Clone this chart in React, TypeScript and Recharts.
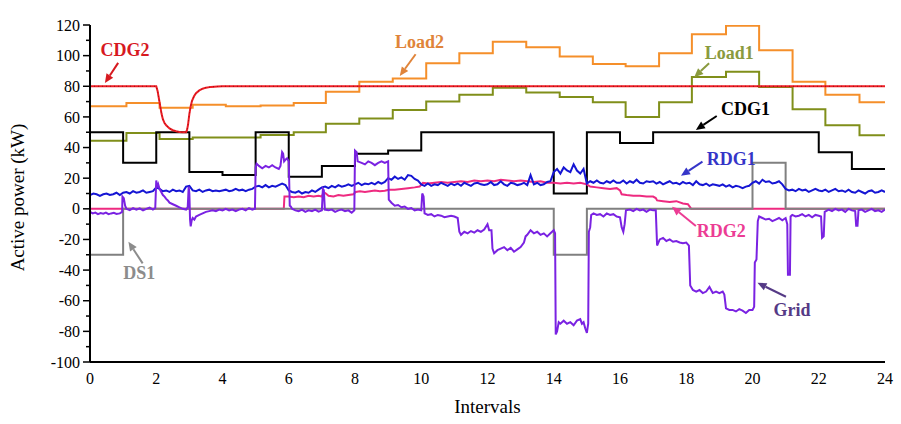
import React from 'react';
import { LineChart, Line, XAxis, YAxis, ReferenceLine, ReferenceDot } from 'recharts';

// ---- data ----
const hourStarts = [0,1,2,3,4,5,6,7,8,9,10,11,12,13,14,15,16,17,18,19,20,21,22,23];
const cdg1Values = [50,30,50,24,22,50,21,28,36,38,50,50,50,50,10,50,43,50,50,50,50,50,37,26];
const ds1Values = [-30,0,0,0,0,0,0,0,0,0,0,0,0,0,-30,0,0,0,0,0,30,0,0,0];

const loadStepX = [0,1.1,2.1,3.1,4.1,5.15,6.15,7.12,8.13,9.14,10.15,11.15,12.16,13.17,14.18,15.18,16.17,17.18,18.17,19.2,20.2,21.21,22.2,23.23];
const load2Values = [67,69,66,68,67,67.5,69,76.5,83,85,95,101.5,109,105.5,99.5,94.5,93,101.5,114,119.5,103.5,83,74.5,69.5];
const load1Values = [44.5,49.5,45.5,46.5,46.5,48.2,50,55.5,59,64.5,70,74.5,79,76,73,69.5,60,69.5,86,89.5,79.5,65,54.5,48];

const cdg2Points: [number, number][] = [
  [0,80],[2.0,80],[2.04,77],[2.08,72],[2.12,67],[2.16,62],[2.2,58.5],[2.25,56],[2.3,54.5],[2.4,52.5],
  [2.5,51.3],[2.6,50.6],[2.7,50.2],[2.8,50],[2.9,50],[2.93,51.5],[2.96,55],[3.0,62],[3.04,67],[3.08,70.5],
  [3.14,73.5],[3.2,75.5],[3.3,77.3],[3.4,78.4],[3.5,79.1],[3.65,79.6],[3.85,79.9],[4.0,80],[24,80],
];

const rdg2Points: [number, number][] = [
  [0,0],[5.85,0],[5.87,8],[6.0,8],[6.15,7.5],[6.3,8],[6.45,7.5],[6.6,8.5],[6.75,8],[6.9,8.5],[7.0,8],
  [7.05,11],[7.12,10],[7.2,8.5],[7.35,8],[7.5,9],[7.65,8.5],[7.8,9],[7.95,9.5],[8.02,11],[8.15,11.5],
  [8.3,11],[8.45,11.5],[8.6,12],[8.75,11.5],[8.9,11.8],[9.02,12.5],[9.2,12.5],[9.4,13],[9.6,13.5],
  [9.8,14],[9.95,14.5],[10.05,17],[10.2,16.5],[10.4,17],[10.6,17.5],[10.8,17],[11.0,17.5],[11.2,18],
  [11.4,17.5],[11.6,18.5],[11.8,18],[12.0,18.5],[12.2,18],[12.4,19],[12.6,18.5],[12.8,18],[13.0,18.5],
  [13.2,18],[13.4,17.5],[13.6,18],[13.8,17],[14.0,17],[14.2,16.5],[14.4,17],[14.6,16.5],[14.8,17],
  [15.0,16],[15.1,14.5],[15.3,14],[15.5,13.5],[15.7,13],[15.9,13.5],[16.0,12],[16.05,9.5],[16.2,9],
  [16.4,8.5],[16.6,8.5],[16.8,8],[17.0,8],[17.08,7],[17.12,5.5],[17.3,5],[17.5,4.5],[17.7,5],[17.9,3.5],
  [18.05,3],[18.12,1],[18.15,0],[24,0],
];

const rdg1Hourly: number[][] = [
  [9,10,9.5,8.5,9.5,10,9,9.5,10.5,9],
  [10.5,11,10,11.5,10.5,11,12,10.5,11,11.5],
  [14,13,11.5,12,11,12.5,11.5,12,11,14.5],
  [15,12,11.5,12.5,11,12,12.5,11.5,12,11.5],
  [12,12.5,11.5,12,13,12,12.5,11.5,12.5,13],
  [14.5,15,14,15.5,14,15,14.5,15.5,16.5,15.5],
  [12,11,10.5,11.5,10,11,10.5,12,11,12.5],
  [14,14.5,13.5,15,14,15.5,14.5,15,16,15],
  [16,17,15.5,16.5,16,17,16,17.5,16.5,17.5],
  [20,19,21,19.5,20.5,19,22,21.5,19.5,18.5],
  [16,15,16.5,15,16,15.5,17,16,15,16.5],
  [15.5,16.5,15,17,16,15,16.5,17,16,15.5],
  [16,17.5,15.5,16,18,16,15,17,16.5,15.5],
  [16,17,15.5,22,16,17,15.5,16,17.5,18],
  [24,26,23,27,25,24,29,25,23,26],
  [16.5,18,17,18.5,17,16.5,18,17,18.5,17],
  [17,18.5,16.5,18,17,19,17,16.5,18,17.5],
  [18,16.5,17.5,16,17,18,16.5,17,16,17.5],
  [16.5,17,15.5,18,16,15.5,16.5,15,16,15.5],
  [15,16,14.5,15.5,14,15,14.5,13.5,14.5,15],
  [17,18,16.5,19,17.5,18,16.5,17,18,16],
  [13,12,12.5,11.5,13,12,12.5,11,12,13],
  [12,11.5,12.5,11,12,13,11.5,12,11,12.5],
  [11,10.5,12,11,10,11.5,12,10.5,11,12],
];
const rdg1End = 11;

const gridPoints: [number, number][] = [
  [0,-2],[0.08,-3],[0.16,-2.5],[0.24,-3.5],[0.32,-2.8],[0.4,-3.2],[0.48,-2.5],[0.56,-3.5],[0.64,-3],[0.72,-2.6],
  [0.8,-3.4],[0.9,-3],[0.97,-2],[0.98,8],[1.02,7],[1.06,2],[1.1,0],[1.2,-0.8],[1.3,0.5],[1.4,-0.5],[1.5,0.3],
  [1.6,-1],[1.7,0],[1.8,0.8],[1.9,-0.5],[1.97,0.5],[2.0,18.5],[2.03,14],[2.06,16],[2.1,13],[2.15,11],[2.2,9],
  [2.25,8],[2.3,6.5],[2.35,5.5],[2.4,4],[2.5,3],[2.6,2],[2.7,1],[2.8,0],[2.9,-0.5],[2.95,1],[2.98,14.5],
  [3.0,10],[3.02,-7],[3.04,-11.5],[3.07,-7.5],[3.1,-6],[3.15,-7],[3.2,-5],[3.3,-4],[3.4,-3],[3.5,-2],
  [3.6,-1.5],[3.7,-1],[3.8,-1.5],[3.9,-0.5],[4.0,-1],[4.1,0],[4.2,-1],[4.3,-0.5],[4.4,-1.5],[4.5,-0.5],
  [4.6,0],[4.7,-1],[4.8,0.5],[4.9,-0.5],[4.98,0],[5.0,27],[5.03,29.5],[5.1,28],[5.2,26.5],[5.3,28],[5.4,27],
  [5.5,28.5],[5.6,27],[5.7,26],[5.75,28],[5.8,37],[5.83,36],[5.86,31],[5.9,32],[5.95,33],[6.0,31],[6.03,2],
  [6.06,1.5],[6.1,0],[6.2,-1],[6.3,-1.5],[6.4,-0.5],[6.5,-2],[6.6,-1],[6.7,-1.5],[6.8,-0.5],[6.9,-1.8],
  [7.0,-1],[7.03,13],[7.06,12],[7.09,-0.5],[7.2,-1],[7.3,-0.5],[7.4,-2],[7.5,-1],[7.6,-0.5],[7.7,-1.5],
  [7.8,-1],[7.9,-2.5],[7.98,-1],[8.0,38],[8.05,37],[8.08,31],[8.2,30],[8.3,29],[8.4,31],[8.5,30],[8.6,28.5],
  [8.7,30],[8.8,31],[8.9,30],[9.0,31],[9.02,6],[9.1,4],[9.2,2],[9.3,2.5],[9.4,1],[9.5,1.5],[9.6,0],[9.7,0.5],
  [9.8,-1],[9.9,-0.5],[10.0,-1],[10.03,10],[10.07,8],[10.1,-3],[10.2,-4],[10.3,-3.5],[10.4,-5],[10.5,-4],
  [10.6,-4.5],[10.7,-5.5],[10.8,-5],[10.9,-4.5],[11.0,-5],[11.1,-6],[11.15,-15],[11.2,-17],[11.3,-15],
  [11.4,-16],[11.5,-14.5],[11.6,-15.5],[11.7,-14],[11.8,-15],[11.9,-13.5],[12.0,-10],[12.05,-14],[12.12,-14],
  [12.15,-26],[12.2,-29],[12.3,-27],[12.4,-26],[12.5,-25],[12.6,-27],[12.7,-25.5],[12.8,-28],[12.9,-26.5],
  [13.0,-25],[13.1,-22],[13.15,-18],[13.2,-17],[13.3,-14],[13.4,-16],[13.5,-15],[13.6,-17],[13.7,-16],
  [13.8,-18],[13.9,-16],[14.0,-14],[14.04,-16],[14.06,-82],[14.1,-80],[14.15,-74],[14.2,-75],[14.3,-73],
  [14.4,-75],[14.5,-74],[14.6,-76],[14.7,-73],[14.8,-72],[14.85,-75],[14.9,-74],[14.95,-78],[15.0,-81],
  [15.04,-75],[15.06,-15],[15.1,-12],[15.13,-4],[15.2,-3],[15.3,-4],[15.4,-3.5],[15.5,-5],[15.6,-3],
  [15.7,-4],[15.8,-3.5],[15.9,-5],[16.0,-5.5],[16.05,-12],[16.1,-15],[16.14,-10],[16.18,-1],[16.3,-0.5],
  [16.4,-1.5],[16.5,0],[16.6,-1],[16.7,-0.5],[16.8,-2],[16.9,-0.5],[17.0,-1],[17.08,-1],[17.12,-24],
  [17.2,-20],[17.3,-19],[17.4,-21],[17.5,-20],[17.6,-21.5],[17.7,-21],[17.8,-22],[17.9,-22.5],[18.0,-22],
  [18.08,-24],[18.12,-50],[18.2,-53],[18.3,-54],[18.4,-53],[18.5,-55],[18.6,-54],[18.7,-51],[18.8,-55],
  [18.9,-54],[19.0,-55],[19.1,-54],[19.15,-56],[19.2,-65],[19.3,-66],[19.4,-66],[19.5,-67],[19.6,-65.5],
  [19.7,-66.5],[19.8,-68],[19.9,-66],[20.0,-66],[20.05,-64],[20.07,-35],[20.12,-33],[20.16,-8],[20.2,-5],
  [20.3,-6],[20.4,-7],[20.5,-6.5],[20.6,-8],[20.7,-7],[20.8,-6],[20.9,-7.5],[21.0,-6],[21.05,-10],
  [21.07,-43],[21.13,-43],[21.15,-5],[21.2,-4],[21.3,-5],[21.4,-4.5],[21.5,-3.5],[21.6,-5],[21.7,-4],
  [21.8,-5.5],[21.9,-4],[22.0,-4.5],[22.07,-5],[22.1,-19],[22.15,-18],[22.18,-2],[22.3,-0.5],[22.4,-1.5],
  [22.5,0],[22.6,-1],[22.7,-0.5],[22.8,-2],[22.9,0],[23.0,-1],[23.1,-1.5],[23.13,-11],[23.17,-11],[23.2,-1],
  [23.3,-0.5],[23.4,-2],[23.5,-1],[23.6,0],[23.7,-1.5],[23.8,-1],[23.9,-2],[24.0,-0.5],
];

const xTicks = [0,2,4,6,8,10,12,14,16,18,20,22,24];
const yTicks = [-100,-90,-80,-70,-60,-50,-40,-30,-20,-10,0,10,20,30,40,50,60,70,80,90,100,110,120];

// annotation labels and arrows (data coordinates)
const labels = [
  { text: 'CDG2', x: 1.06, y: 103.7, color: '#d7191f' },
  { text: 'Load2', x: 9.95, y: 109.1, color: '#e0843a' },
  { text: 'Load1', x: 19.3, y: 101.5, color: '#8a9a3e' },
  { text: 'CDG1', x: 19.79, y: 65, color: '#000000' },
  { text: 'RDG1', x: 19.36, y: 32.3, color: '#3535c8' },
  { text: 'RDG2', x: 19.06, y: -14.3, color: '#ec3c94' },
  { text: 'Grid', x: 21.19, y: -66.1, color: '#553a86' },
  { text: 'DS1', x: 1.49, y: -42.1, color: '#8c8c8c' },
];
const arrows = [
  { from: [0.85, 95.3], to: [0.45, 82.1], color: '#d7191f' },
  { from: [9.83, 100.9], to: [9.35, 86.7], color: '#e0843a' },
  { from: [18.69, 95], to: [18.24, 85.9], color: '#8a9a3e' },
  { from: [18.92, 60.6], to: [18.29, 51.5], color: '#000000' },
  { from: [18.49, 30.8], to: [17.84, 21.6], color: '#3535c8' },
  { from: [18.29, -11.2], to: [17.57, 1.4], color: '#ec3c94' },
  { from: [21.01, -57.4], to: [20.15, -48.3], color: '#553a86' },
  { from: [1.59, -35.6], to: [1.16, -21.5], color: '#8c8c8c' },
];

// ---- helpers ----
const stepSeries = (xs: number[], vals: number[]) => [
  ...xs.map((x, i) => ({ x, y: vals[i] })),
  { x: 24, y: vals[vals.length - 1] },
];
const pairSeries = (pts: [number, number][]) => pts.map(([x, y]) => ({ x, y }));

const cdg1Data = stepSeries(hourStarts, cdg1Values);
const ds1Data = stepSeries(hourStarts, ds1Values);
const load1Data = stepSeries(loadStepX, load1Values);
const load2Data = stepSeries(loadStepX, load2Values);
const cdg2Data = pairSeries(cdg2Points);
const rdg2Data = pairSeries(rdg2Points);
const gridData = pairSeries(gridPoints);
const rdg1Data = [
  ...rdg1Hourly.flatMap((vals, h) => vals.map((y, k) => ({ x: h + k / 10, y }))),
  { x: 24, y: rdg1End },
];

const FONT = '"Liberation Serif", "Times New Roman", serif';

const YTick = (p: any) => {
  const v = p.payload.value;
  const major = v % 20 === 0;
  return (
    <g>
      <line x1={p.x - (major ? 7 : 4)} x2={p.x} y1={p.y} y2={p.y} stroke="#000" strokeWidth={1.5} />
      {major && (
        <text x={p.x - 10} y={p.y} dy="0.35em" textAnchor="end" fontFamily={FONT} fontSize={16} fill="#000">
          {v}
        </text>
      )}
    </g>
  );
};

const arrowShape = (color: string) => (p: any) => {
  const { x1, y1, x2, y2 } = p;
  const ang = Math.atan2(y2 - y1, x2 - x1);
  const L = 9, W = 4;
  const bx = x2 - L * Math.cos(ang), by = y2 - L * Math.sin(ang);
  const lx = bx + W * Math.sin(ang), ly = by - W * Math.cos(ang);
  const rx = bx - W * Math.sin(ang), ry = by + W * Math.cos(ang);
  return (
    <g>
      <line x1={x1} y1={y1} x2={bx} y2={by} stroke={color} strokeWidth={2} />
      <polygon points={`${x2},${y2} ${lx},${ly} ${rx},${ry}`} fill={color} />
    </g>
  );
};

const textShape = (text: string, color: string) => (p: any) => (
  <text x={p.cx} y={p.cy} textAnchor="middle" dominantBaseline="central" fontFamily={FONT}
    fontWeight="bold" fontSize={18} fill={color}>
    {text}
  </text>
);

export default function App() {
  return (
    <div style={{ position: 'absolute', left: 0, top: 0, width: 901, height: 424, background: '#fff' }}>
      <LineChart width={901} height={424} margin={{ top: 25, right: 16, bottom: 22, left: 30 }}>
        <XAxis
          dataKey="x"
          type="number"
          domain={[0, 24]}
          ticks={xTicks}
          interval={0}
          allowDataOverflow
          axisLine={{ stroke: '#000', strokeWidth: 2 }}
          tickLine={false}
          tickSize={0}
          tickMargin={11}
          tick={{ fontFamily: FONT, fontSize: 16, fill: '#000' }}
          height={40}
          label={{
            content: (lp: any) => {
              const vb = lp.viewBox || {};
              return (
                <text x={vb.x + vb.width / 2} y={vb.y + 51} textAnchor="middle" fontFamily={FONT} fontSize={19} fill="#000">
                  Intervals
                </text>
              );
            },
          }}
        />
        <YAxis
          dataKey="y"
          type="number"
          domain={[-100, 120]}
          ticks={yTicks}
          interval={0}
          allowDataOverflow
          width={60}
          axisLine={{ stroke: '#000', strokeWidth: 2 }}
          tickLine={false}
          tickSize={0}
          tickMargin={0}
          tick={<YTick />}
          label={{
            content: (lp: any) => {
              const vb = lp.viewBox || {};
              const cx = vb.x - 13;
              const cy = vb.y + vb.height / 2 + 4;
              return (
                <text x={cx} y={cy} transform={`rotate(-90 ${cx} ${cy})`} textAnchor="middle" dominantBaseline="central"
                  fontFamily={FONT} fontSize={19} fill="#000">
                  Active power (kW)
                </text>
              );
            },
          }}
        />
        <Line data={load2Data} dataKey="y" type="stepAfter" stroke="#f58f2a" strokeWidth={2} dot={false} isAnimationActive={false} />
        <Line data={load1Data} dataKey="y" type="stepAfter" stroke="#808f1a" strokeWidth={2} dot={false} isAnimationActive={false} />
        <Line data={cdg1Data} dataKey="y" type="stepAfter" stroke="#000000" strokeWidth={2} dot={false} isAnimationActive={false} />
        <Line data={cdg2Data} dataKey="y" type="linear" stroke="#ee1c24" strokeWidth={2} dot={false} isAnimationActive={false} />
        <Line data={cdg2Data} dataKey="y" type="linear" stroke="#9a1010" strokeWidth={1} strokeDasharray="1 3" dot={false} isAnimationActive={false} />
        <Line data={rdg2Data} dataKey="y" type="linear" stroke="#ee2a80" strokeWidth={2} dot={false} isAnimationActive={false} />
        <Line data={ds1Data} dataKey="y" type="stepAfter" stroke="#808080" strokeWidth={2} dot={false} isAnimationActive={false} />
        <Line data={rdg1Data} dataKey="y" type="linear" stroke="#1515d4" strokeWidth={2} dot={false} isAnimationActive={false} />
        <Line data={gridData} dataKey="y" type="linear" stroke="#7a22e2" strokeWidth={2} dot={false} isAnimationActive={false} />
        {arrows.map((a, i) => (
          <ReferenceLine
            key={'a' + i}
            segment={[{ x: a.from[0], y: a.from[1] }, { x: a.to[0], y: a.to[1] }]}
            stroke={a.color}
            ifOverflow="visible"
            shape={arrowShape(a.color)}
          />
        ))}
        {labels.map((l, i) => (
          <ReferenceDot key={'l' + i} x={l.x} y={l.y} r={0} ifOverflow="visible" shape={textShape(l.text, l.color)} />
        ))}
      </LineChart>
    </div>
  );
}
